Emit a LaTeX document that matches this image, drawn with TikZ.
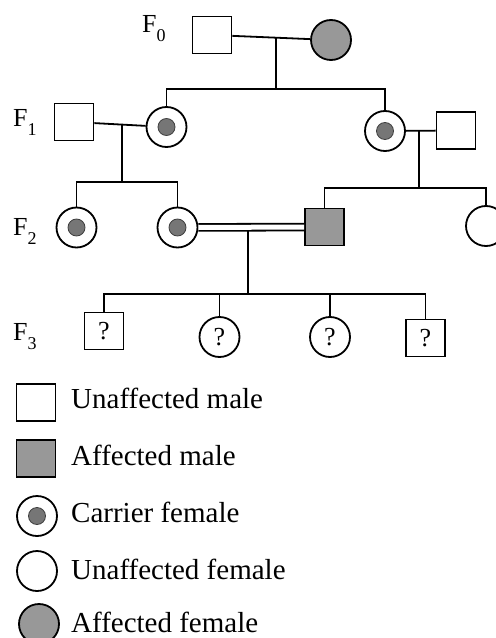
\documentclass[tikz,border=0pt]{standalone}
\usepackage{fontspec}
\setmainfont{Liberation Serif}
\usetikzlibrary{calc}
\definecolor{affgray}{RGB}{152,152,152}
\definecolor{dotgray}{RGB}{118,118,118}
\tikzset{
  ln/.style={line width=1.8bp},
  male/.style={draw, line width=1.8bp, rectangle, minimum width=39bp, minimum height=37bp, inner sep=0pt},
  affmale/.style={male, fill=affgray},
  female/.style={draw, line width=1.8bp, circle, minimum size=40bp, inner sep=0pt},
  afffemale/.style={female, fill=affgray},
  carrier/.style={female, path picture={\fill[dotgray, draw=black!75, line width=0.8bp] (path picture bounding box.center) circle (8.5bp);}},
  gen/.style={anchor=base west, inner sep=0pt, font=\fontsize{26bp}{28bp}\selectfont},
  leg/.style={anchor=base west, inner sep=0pt, font=\fontsize{29bp}{32bp}\selectfont},
  qm/.style={font=\fontsize{26bp}{28bp}\selectfont}
}
\newcommand{\gsub}[1]{\raisebox{-9bp}{\fontsize{18bp}{20bp}\selectfont #1}}
\begin{document}
\begin{tikzpicture}[x=1bp, y=-1bp]
\useasboundingbox (0,0) rectangle (496,638);
% generation labels
\node[gen] (g0) at (142,33) {F\gsub{0}};
\node[gen] (g1) at (13,127) {F\gsub{1}};
\node[gen] (g2) at (13,235) {F\gsub{2}};
\node[gen] (g3) at (13,340) {F\gsub{3}};
% F0
\node[male] (m0) at (212,35) {};
\node[afffemale] (f0) at (331,40) {};
% F1
\node[male] (m11) at (74,122) {};
\node[carrier] (c11) at (166.5,127) {};
\node[carrier] (c12) at (385,131) {};
\node[male] (m12) at (456,130.5) {};
% F2
\node[carrier] (c21) at (76.5,227.5) {};
\node[carrier] (c22) at (177.5,227.5) {};
\node[affmale] (a2) at (324.5,227) {};
\node[female] (f2) at (486,226) {};
% F3
\node[male, qm] (q1) at (104,331) {?};
\node[female, qm] (q2) at (219.5,337) {?};
\node[female, qm] (q3) at (330,337) {?};
\node[male, qm] (q4) at (425.5,338) {?};
% coordinates
\coordinate (d0) at (276,37.5);
\coordinate (s0) at (276,89);
\coordinate (d1) at (122,124);
\coordinate (s1) at (122,182);
\coordinate (d12) at (419,131);
\coordinate (s12) at (419,188);
\coordinate (d2) at (248,231);
\coordinate (s2) at (248,294);
% F0 connectors
\draw[ln] (m0) -- (f0);
\draw[ln] (d0) -- (s0);
\draw[ln] (c11.north) -- (c11.north |- s0) -- (c12.north |- s0) -- (c12.north);
% F1 connectors
\draw[ln] (m11) -- (c11);
\draw[ln] (d1) -- (s1);
\draw[ln] (c21.north) -- (c21.north |- s1) -- (c22.north |- s1) -- (c22.north);
\draw[ln] (c12) -- (m12);
\draw[ln] (d12) -- (s12);
\draw[ln] (a2.north) -- (a2.north |- s12) -- (f2.north |- s12) -- (f2.north);
% F2 consanguineous mating
\draw[line width=1.8bp, double=white, double distance=5bp] (c22) -- (a2);
\draw[ln] (d2) -- (s2);
\draw[ln] (q1.north) -- (q1.north |- s2) -- (q4.north |- s2) -- (q4.north);
\draw[ln] (q2.north) -- (q2.north |- s2);
\draw[ln] (q3.north) -- (q3.north |- s2);
% legend
\node[male] (l1) at (36,402.5) {};
\node[leg] (t1) at (71,408) {Unaffected male};
\node[affmale] (l2) at (36,458.5) {};
\node[leg] (t2) at (71,465) {Affected male};
\node[carrier] (l3) at (37,516) {};
\node[leg] (t3) at (71,522) {Carrier female};
\node[female] (l4) at (37,571) {};
\node[leg] (t4) at (71,579) {Unaffected female};
\node[afffemale] (l5) at (39,624) {};
\node[leg] (t5) at (71,632) {Affected female};
\end{tikzpicture}
\end{document}
